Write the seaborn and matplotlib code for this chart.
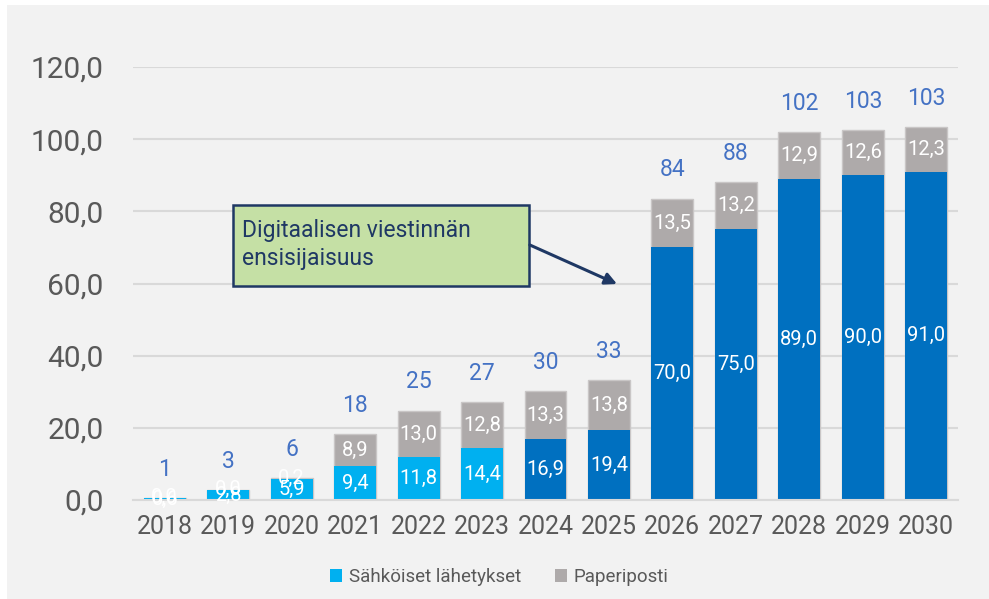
import numpy as np
import pandas as pd
import matplotlib
matplotlib.use("Agg")
import matplotlib.pyplot as plt
from matplotlib.patches import Rectangle, Patch
import seaborn as sns

# ---- data ----
years = ["2018", "2019", "2020", "2021", "2022", "2023", "2024",
         "2025", "2026", "2027", "2028", "2029", "2030"]
electronic = [0.6, 2.8, 5.9, 9.4, 11.8, 14.4, 16.9, 19.4, 70.0, 75.0, 89.0, 90.0, 91.0]
paper = [0.0, 0.0, 0.2, 8.9, 13.0, 12.8, 13.3, 13.8, 13.5, 13.2, 12.9, 12.6, 12.3]
totals = [1, 3, 6, 18, 25, 27, 30, 33, 84, 88, 102, 103, 103]
y_ticks = [0, 20, 40, 60, 80, 100, 120]
legend_labels = ["Sähköiset lähetykset", "Paperiposti"]
callout_text = "Digitaalisen viestinnän\nensisijaisuus"

LIGHT_BLUE = "#00B0F0"
DARK_BLUE = "#0070C0"
GREY = "#AEAAAA"
TOTAL_COL = "#4472C4"
TEXT_COL = "#595959"
GRID_COL = "#D9D9D9"
BG = "#F2F2F2"

sns.set_style("white")
plt.rcParams["font.family"] = ["Roboto", "DejaVu Sans"]

df = pd.DataFrame({"year": years, "electronic": electronic, "paper": paper})
df["stack_top"] = df["electronic"] + df["paper"]
bar_palette = {y: (LIGHT_BLUE if int(y) <= 2023 else DARK_BLUE) for y in years}

W, H = 989, 599
fig = plt.figure(figsize=(W / 100, H / 100), dpi=100, facecolor="white")
fig.patches.append(Rectangle((7 / W, 0), 1 - 7 / W, 1 - 5 / H, transform=fig.transFigure,
                             facecolor=BG, edgecolor="none", zorder=-10))

ax = fig.add_axes([133 / W, 99 / H, 825 / W, 433 / H])
ax.set_facecolor("none")

# grey = full stack, blue overlaid on the bottom part
sns.barplot(data=df, x="year", y="stack_top", color=GREY, saturation=1, width=0.66,
            errorbar=None, ax=ax, edgecolor="#C9C6C6", linewidth=1.0)
sns.barplot(data=df, x="year", y="electronic", hue="year", palette=bar_palette,
            saturation=1, width=0.66, errorbar=None, dodge=False, legend=False, ax=ax,
            linewidth=0)

fmt = lambda v: f"{v:.1f}".replace(".", ",")
for i, (e, p, t) in enumerate(zip(electronic, paper, totals)):
    ax.text(i, e / 2, fmt(e), ha="center", va="center", color="white", fontsize=14.5, zorder=5)
    ax.text(i, e + p / 2, fmt(p), ha="center", va="center", color="white", fontsize=14.5, zorder=5)
    ax.annotate(str(t), xy=(i, e + p), xytext=(0, 16), textcoords="offset points",
                ha="center", va="baseline", color=TOTAL_COL, fontsize=16.5)

ax.set_ylim(0, 120)
ax.set_xlim(-0.5, len(years) - 0.5)
ax.set_yticks(y_ticks)
ax.set_yticklabels([fmt(v) for v in y_ticks])
ax.set_xlabel("")
ax.set_ylabel("")
ax.yaxis.grid(True, color=GRID_COL, linewidth=1.5)
ax.set_axisbelow(True)
for s in ["top", "right", "left"]:
    ax.spines[s].set_visible(False)
ax.spines["bottom"].set_color(GRID_COL)
ax.spines["bottom"].set_linewidth(1.5)
ax.tick_params(axis="y", length=0, pad=21, labelsize=21.5, labelcolor=TEXT_COL)
ax.tick_params(axis="x", length=0, pad=11, labelsize=18, labelcolor=TEXT_COL)

# callout box with arrow
box = Rectangle((0.1212, 0.494), 0.3588, 0.187, transform=ax.transAxes,
                facecolor="#C5E0A5", edgecolor="#1F3864", linewidth=1.8, zorder=6)
ax.add_patch(box)
ax.text(0.132, 0.590, callout_text, transform=ax.transAxes, ha="left", va="center",
        color="#1F3864", fontsize=16.5, linespacing=1.3, zorder=7)
ax.annotate("", xy=(0.5867, 0.4988), xytext=(0.481, 0.589),
            xycoords="axes fraction", textcoords="axes fraction",
            arrowprops=dict(arrowstyle="-|>,head_length=0.7,head_width=0.35",
                            color="#1F3864", lw=2.2, shrinkA=0, shrinkB=0), zorder=7)

handles = [Patch(facecolor=LIGHT_BLUE, edgecolor="none"), Patch(facecolor=GREY, edgecolor="none")]
fig.legend(handles, legend_labels, loc="center", bbox_to_anchor=(0.505, 1 - 577 / H),
           ncol=2, frameon=False, fontsize=13.5, labelcolor=TEXT_COL,
           handlelength=0.65, handleheight=0.65, handletextpad=0.35, columnspacing=1.8)

fig.savefig("out.png", dpi=100, facecolor="white")
